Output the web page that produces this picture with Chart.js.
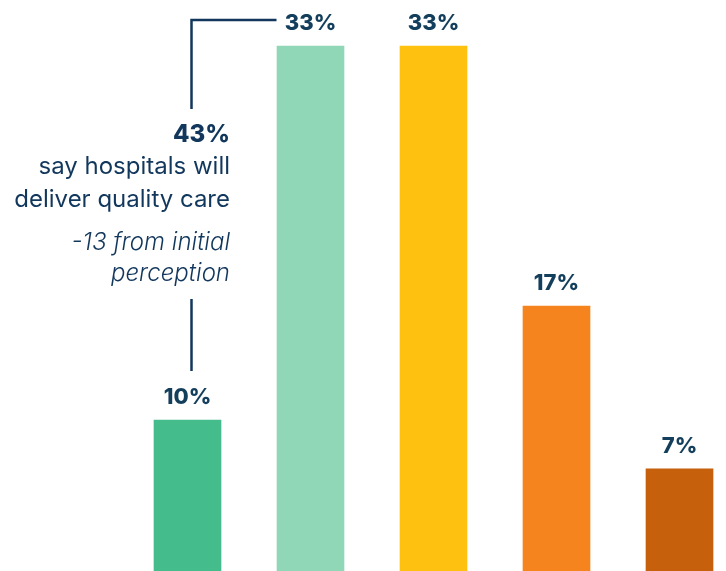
<!DOCTYPE html>
<html>
<head>
<meta charset="utf-8">
<script src="https://cdn.jsdelivr.net/npm/chart.js@4"></script>
<style>
  html, body { margin: 0; padding: 0; background: #fff; overflow: hidden; }
  #wrap { width: 726px; height: 571px; position: relative; }
</style>
</head>
<body>
<div id="wrap"><canvas id="perceptionChart"></canvas></div>
<script>
// =========================
// Data
// =========================

const categories = ["A", "B", "C", "D", "E"];
const shares = [10, 33, 33, 17, 7];
const barColors = ["#45bc8b", "#90d7b8", "#fec110", "#f5841f", "#c6600c"];

const calloutValue = "43%";
const calloutLines = ["say hospitals will", "deliver quality care"];
const calloutNote = ["-13 from initial", "perception"];

const navy = "#12375c";

// =========================
// Plugins
// =========================

const valueLabels = {
    id: "valueLabels",
    afterDatasetsDraw(chart) {
        const c = chart.ctx;
        const meta = chart.getDatasetMeta(0);
        c.save();
        c.fillStyle = "#143f5c";
        c.font = "800 22px Inter";
        c.textAlign = "center";
        c.textBaseline = "alphabetic";
        meta.data.forEach((bar, i) => {
            c.fillText(shares[i] + "%", bar.x, bar.y - 16);
        });
        c.restore();
    }
};

const callout = {
    id: "callout",
    afterDraw(chart) {
        const c = chart.ctx;
        const meta = chart.getDatasetMeta(0);
        const first = meta.data[0];
        const second = meta.data[1];
        const lineX = first.x + 4;

        c.save();
        c.strokeStyle = navy;
        c.lineWidth = 2.5;
        c.beginPath();
        c.moveTo(second.x - 34, 20);
        c.lineTo(lineX, 20);
        c.lineTo(lineX, 109);
        c.stroke();

        c.beginPath();
        c.moveTo(lineX, 299);
        c.lineTo(lineX, 371);
        c.stroke();

        c.fillStyle = navy;
        c.textAlign = "right";
        c.textBaseline = "alphabetic";
        c.font = "800 24px Inter";
        c.fillText(calloutValue, 230, 142);

        c.font = "400 24px Inter";
        c.fillText(calloutLines[0], 230, 174);
        c.fillText(calloutLines[1], 230, 207);

        c.font = "italic 300 24px Inter";
        c.fillText(calloutNote[0], 230, 250);
        c.fillText(calloutNote[1], 230, 281);
        c.restore();
    }
};

// =========================
// Chart
// =========================

const ctx = document.getElementById("perceptionChart");

const chart = new Chart(ctx, {
    type: "bar",
    data: {
        labels: categories,
        datasets: [{
            data: shares,
            backgroundColor: barColors,
            borderWidth: 0,
            barThickness: 67,
            clip: false
        }]
    },
    options: {
        responsive: true,
        maintainAspectRatio: false,
        animation: false,
        layout: {
            padding: { left: 187.5, right: 46.5, top: 0, bottom: 0 }
        },
        plugins: {
            legend: { display: false },
            tooltip: { enabled: false }
        },
        scales: {
            x: {
                offset: false,
                display: false,
                grid: { display: false }
            },
            y: {
                display: false,
                min: 0.71,
                max: 35.83,
                grid: { display: false }
            }
        }
    },
    plugins: [valueLabels, callout]
});
</script>
</body>
</html>
